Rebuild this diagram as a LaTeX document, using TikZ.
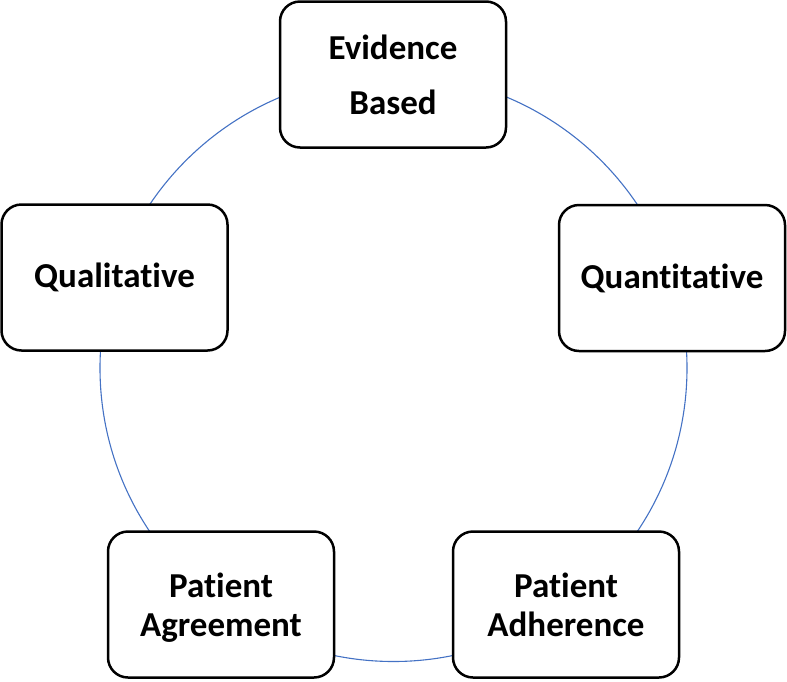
\documentclass[tikz,border=0pt]{standalone}
\usepackage{fontspec}
\setmainfont[Ligatures=NoCommon]{Carlito}
\begin{document}
\begin{tikzpicture}[x=1pt,y=-1pt,
  boxnode/.style={draw=black,line width=2.5pt,rounded corners=20pt,fill=white,
    minimum width=226pt,minimum height=146pt,align=center,inner sep=0pt,
    font=\fontsize{35}{39}\selectfont\bfseries},
  widespace/.style={font=\fontsize{35}{55}\selectfont\bfseries},
  ringline/.style={draw={rgb,255:red,68;green,114;blue,196},line width=1.1pt}]
\useasboundingbox (0,0) rectangle (787,681);
\coordinate (c) at (393.5,368);
\draw[ringline] (c) circle[radius=293.5];
\node[boxnode,widespace] (eb) at (393,74.5) {Evidence\\Based};
\node[boxnode] (ql) at (114.5,277.5) {Qualitative};
\node[boxnode] (qn) at (672,278) {Quantitative};
\node[boxnode] (pag) at (221,604.5) {Patient\\\smash{Agreement}};
\node[boxnode] (pad) at (566,604.5) {Patient\\\smash{Adherence}};
\end{tikzpicture}
\end{document}
